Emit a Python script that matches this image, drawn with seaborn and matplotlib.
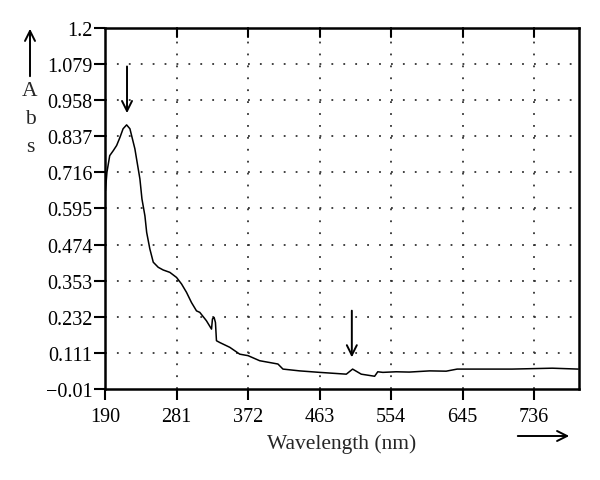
import matplotlib
matplotlib.use("Agg")
import matplotlib.pyplot as plt
import seaborn as sns
import pandas as pd

# Absorbance spectrum
wavelength = [190.5, 192.5, 196, 200.6, 204.8, 209, 213, 217.5, 221.7, 228, 234.4,
              237, 240.8, 243, 247, 251.4, 257.7, 264, 272.5, 281, 287.4, 293.7,
              300, 306.4, 310.6, 319, 325.5, 326.7, 328.8, 330.5, 331.8, 336,
              348.7, 361.4, 372, 386.8, 410, 416.4, 437.6, 463, 497, 505, 516,
              533, 537, 543.5, 560.4, 577, 603, 624, 638, 708, 759, 792]
absorbance = [0.654, 0.717, 0.772, 0.789, 0.806, 0.833, 0.862, 0.875, 0.862, 0.795, 0.694,
              0.627, 0.57, 0.515, 0.46, 0.415, 0.398, 0.389, 0.381, 0.364, 0.342, 0.314,
              0.28, 0.252, 0.247, 0.219, 0.191, 0.225, 0.230, 0.213, 0.152, 0.146,
              0.13, 0.107, 0.102, 0.085, 0.074, 0.057, 0.051, 0.046, 0.04, 0.057, 0.04,
              0.033, 0.048, 0.046, 0.048, 0.047, 0.051, 0.05, 0.057, 0.057, 0.06, 0.057]

x_ticks = [190, 281, 372, 463, 554, 645, 736]
y_ticks = [-0.01, 0.111, 0.232, 0.353, 0.474, 0.595, 0.716, 0.837, 0.958, 1.079, 1.2]
y_labels = ["\u22120.01", "0.111", "0.232", "0.353", "0.474", "0.595", "0.716",
            "0.837", "0.958", "1.079", "1.2"]
peak_marks = [(218, 0.875), (504, 0.057)]

sns.set_style("ticks")
plt.rcParams['font.family'] = ['Liberation Serif', 'DejaVu Serif']
plt.rcParams['font.size'] = 14.5

df = pd.DataFrame({"wl": wavelength, "abs": absorbance})

fig = plt.figure(figsize=(6, 4.81), dpi=100)
ax = fig.add_axes([0.175, 0.189, 0.79, 0.751])

sns.lineplot(data=df, x="wl", y="abs", color="black", linewidth=1.1, ax=ax)

ax.set_xlim(190, 793)
ax.set_ylim(-0.01, 1.2)
ax.set_xticks(x_ticks)
ax.set_yticks(y_ticks)
ax.set_yticklabels(y_labels)
ax.tick_params(axis='both', direction='out', length=8, width=1.5, colors='black',
               labelsize=14.5, pad=1)
ax.tick_params(axis='x', pad=5)

# dotted grid, skipping the ticks that sit on the frame
for xv in x_ticks[1:]:
    ax.axvline(xv, color='#333333', linestyle=(0, (1, 5.6)), linewidth=1.3, zorder=0)
    ax.plot([xv, xv], [1.2, 1.2 - 0.03], color='black', linewidth=1.5, clip_on=False)
for yv in y_ticks[1:-1]:
    ax.axhline(yv, color='#333333', linestyle=(0, (1, 5.6)), linewidth=1.3, zorder=0)

for side in ['top', 'right', 'left', 'bottom']:
    ax.spines[side].set_visible(True)
    ax.spines[side].set_linewidth(1.8)
    ax.spines[side].set_color('black')

ax.set_xlabel("Wavelength (nm)", fontsize=15.5, labelpad=5)
ax.set_ylabel("")

# peak arrows
for px, py in peak_marks:
    ax.annotate("", xy=(px, py + 0.03), xytext=(px, py + 0.205),
                arrowprops=dict(arrowstyle='->', color='black', lw=1.4,
                                mutation_scale=18))

# vertical "Abs" label with arrow above
for i, ch in enumerate(["A", "b", "s"]):
    fig.text(0.05, 1 - (92 + i * 27.5) / 481, ch, ha='center', va='center', fontsize=15.5)
fig.add_artist(matplotlib.patches.FancyArrowPatch(
    (0.05, 1 - 80 / 481), (0.05, 1 - 27 / 481), transform=fig.transFigure,
    arrowstyle='->', mutation_scale=18, lw=1.4, color='black'))

# arrow along the wavelength axis
fig.add_artist(matplotlib.patches.FancyArrowPatch(
    (515 / 600, 1 - 437 / 481), (572 / 600, 1 - 437 / 481), transform=fig.transFigure,
    arrowstyle='->', mutation_scale=18, lw=1.4, color='black'))

fig.savefig("out.png", dpi=100)
